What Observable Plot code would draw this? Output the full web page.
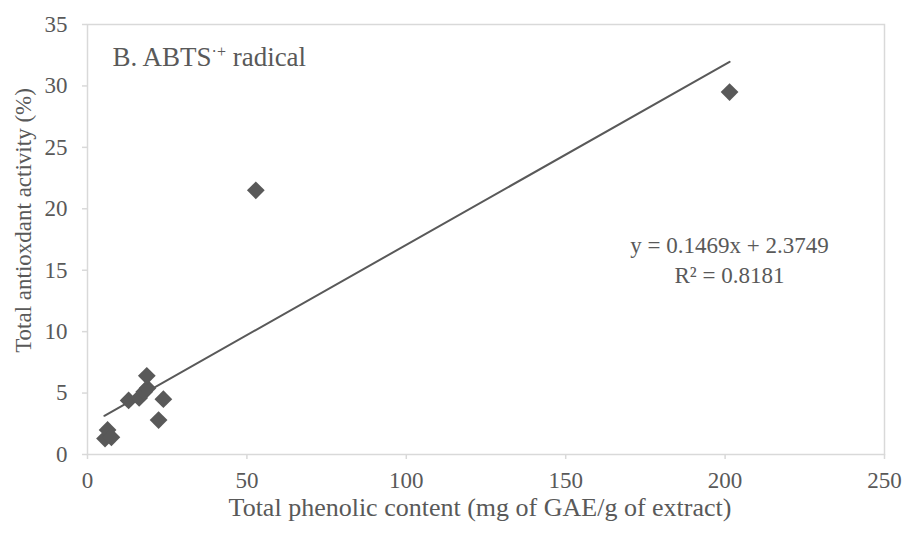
<!DOCTYPE html>
<html><head><meta charset="utf-8">
<script src="https://cdn.jsdelivr.net/npm/d3@7"></script>
<script src="https://cdn.jsdelivr.net/npm/@observablehq/plot@0.6"></script>
<style>body{margin:0;background:#fff}</style>
</head><body><div id="chart"></div>
<script>
const phenolic = [5.5, 6.3, 7.5, 12.9, 16.2, 17.8, 18.8, 18.6, 22.3, 23.8, 52.8, 201.4];
const activity = [1.3, 2.0, 1.4, 4.4, 4.6, 5.1, 5.4, 6.4, 2.8, 4.5, 21.5, 29.5];
const xTicks = [0, 50, 100, 150, 200, 250];
const yTicks = [0, 5, 10, 15, 20, 25, 30, 35];
const slope = 0.1469, intercept = 2.3749, r2 = 0.8181;
const seriesLabel = "B. ABTS·+ radical";
const xLabel = "Total phenolic content (mg of GAE/g of extract)";
const yLabel = "Total antioxdant activity (%)";
const equation = ["y = " + slope + "x + " + intercept, "R² = " + r2].join("\n");

const points = phenolic.map((x, i) => ({x, y: activity[i]}));
const trend = [d3.min(phenolic) - 0.2, d3.max(phenolic)].map(x => ({x, y: slope * x + intercept}));
const gray = "#595959", light = "#d9d9d9";

const chart = Plot.plot({
  width: 905, height: 537,
  marginLeft: 87, marginRight: 21, marginTop: 24, marginBottom: 83,
  style: {fontFamily: "'Liberation Serif','Times New Roman',serif", fontSize: "23px", color: gray, background: "#fff"},
  x: {domain: [0, 250]},
  y: {domain: [0, 35]},
  marks: [
    Plot.frame({stroke: light, strokeWidth: 1.5}),
    Plot.axisX({ticks: xTicks, tickSize: 5, tickPadding: 12, stroke: light, strokeWidth: 1.5, fill: gray, label: null}),
    Plot.axisY({ticks: yTicks, tickSize: 5, tickPadding: 15, stroke: light, strokeWidth: 1.5, fill: gray, label: null}),
    Plot.line(trend, {x: "x", y: "y", stroke: gray, strokeWidth: 2}),
    Plot.dot(points, {x: "x", y: "y", symbol: "diamond2", r: 8, fill: gray, stroke: "none"}),
    Plot.text([xLabel], {text: d => d, frameAnchor: "bottom", dx: -6, dy: 53, textAnchor: "middle", lineAnchor: "middle", fontSize: 26, fill: gray}),
    Plot.text([yLabel], {text: d => d, frameAnchor: "left", dx: -64, dy: -19, rotate: -90, textAnchor: "middle", lineAnchor: "middle", fill: gray}),
    Plot.text([seriesLabel], {text: d => d, frameAnchor: "top-left", dx: 25, dy: 32.4, textAnchor: "start", lineAnchor: "middle", fontSize: 27, fill: gray}),
    Plot.text([equation], {text: d => d, frameAnchor: "top-left", dx: 642, dy: 234, textAnchor: "middle", lineAnchor: "middle", lineHeight: 1.3, fill: gray})
  ]
});
document.getElementById("chart").appendChild(chart);

// superscript "·+" in the series label
chart.querySelectorAll("text").forEach(t => {
  if (t.textContent === seriesLabel) {
    t.textContent = "";
    const ns = "http://www.w3.org/2000/svg";
    t.appendChild(document.createTextNode("B. ABTS"));
    const sup = document.createElementNS(ns, "tspan");
    sup.setAttribute("dy", "-9");
    sup.setAttribute("font-size", "16px");
    sup.textContent = "·+";
    t.appendChild(sup);
    const rest = document.createElementNS(ns, "tspan");
    rest.setAttribute("dy", "9");
    rest.textContent = " radical";
    t.appendChild(rest);
  }
});
</script>
</body></html>
